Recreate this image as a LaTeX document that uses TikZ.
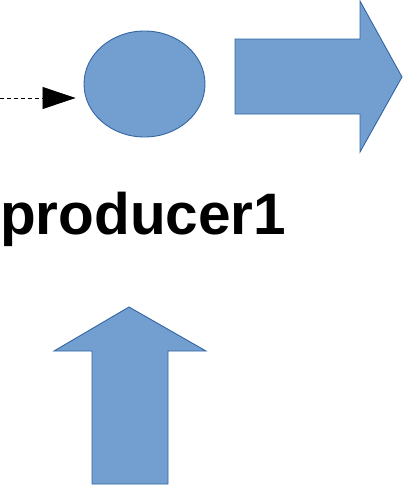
\documentclass[tikz,border=0pt]{standalone}
\usepackage{fontspec}
\setmainfont{Liberation Sans}
\usetikzlibrary{arrows.meta,shapes.geometric}

\definecolor{blockfill}{RGB}{114,159,207}
\definecolor{blockline}{RGB}{52,101,164}

\begin{document}
\begin{tikzpicture}[
  x=1pt, y=-1pt, line join=miter,
  blk/.style={draw=blockline, fill=blockfill, line width=0.9pt},
  proc/.style={blk, ellipse, inner sep=0pt, minimum width=121pt, minimum height=106pt},
  lbl/.style={inner sep=0pt, anchor=base west, font=\fontsize{58.5}{62}\selectfont\bfseries}]

  \useasboundingbox (0,0) rectangle (403,485);

  % --- the process and its incoming dashed edge ---
  \node[proc] (blob) at (144.5,84) {};
  \coordinate (src) at (0,98);
  \draw[dash pattern=on 4pt off 3pt, line width=0.8pt, -{Triangle[length=33pt,width=22pt]}, shorten >=8pt]
    (src) -- (src -| blob.west);

  % --- block arrows ---
  \draw[blk] (235,39) -- (360,39) -- (360,1) -- (402,77) -- (360,152) -- (360,114) -- (235,114) -- cycle;
  \draw[blk] (92,484) -- (92,351) -- (54,351) -- (129,307) -- (206,351) -- (168,351) -- (168,484) -- cycle;

  % --- label ---
  \node[lbl] (name) at (0,234) {producer1};
\end{tikzpicture}
\end{document}
